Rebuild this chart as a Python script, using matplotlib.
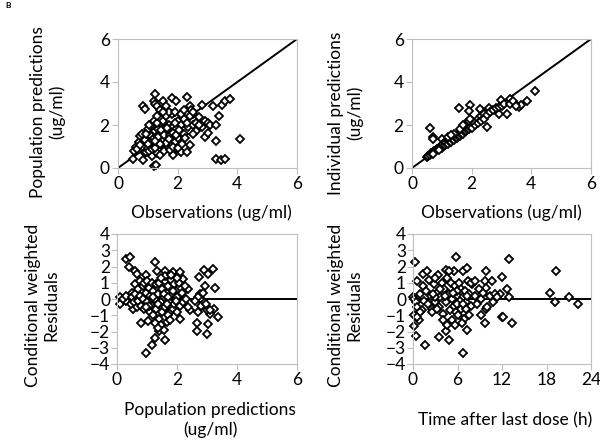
import matplotlib.pyplot as plt
import numpy as np

plt.rcParams['font.family'] = ['Lato', 'DejaVu Sans']

# observed vs population predicted (ug/ml)
obs_pred = [
    (0.5, 0.43), (0.55, 0.8), (0.6, 1.0), (0.65, 0.9), (0.7, 1.2), (0.73, 1.05), (0.75, 1.5),
    (0.8, 1.6), (0.85, 2.88), (0.9, 2.75), (0.84, 0.35), (0.9, 0.7), (0.95, 0.75), (1.0, 1.8),
    (1.0, 0.95), (1.05, 1.3), (1.1, 1.5), (1.1, 2.0), (1.15, 0.55), (1.2, 0.1), (1.28, 0.12),
    (1.2, 3.1), (1.23, 3.42), (1.25, 3.0), (1.3, 2.9), (1.3, 0.7), (1.35, 1.2), (1.4, 0.6),
    (1.4, 1.6), (1.45, 1.9), (1.5, 3.1), (1.5, 2.2), (1.55, 1.7), (1.6, 1.4), (1.6, 2.9),
    (1.65, 0.95), (1.7, 2.0), (1.73, 1.05), (1.75, 1.8), (1.8, 3.27), (1.8, 2.5), (1.84, 1.35),
    (1.85, 0.6), (1.9, 1.9), (1.95, 0.9), (1.96, 3.1), (2.0, 2.2), (2.0, 1.6), (2.05, 1.2),
    (2.07, 0.8), (2.1, 0.75), (2.1, 2.0), (2.2, 1.6), (2.2, 2.3), (2.3, 3.3), (2.3, 0.75),
    (2.35, 1.9), (2.4, 2.9), (2.4, 1.05), (2.45, 2.7), (2.5, 2.5), (2.5, 2.0), (2.6, 1.7),
    (2.7, 2.35), (2.8, 2.95), (2.8, 1.9), (2.9, 1.43), (2.9, 2.2), (3.0, 1.65), (3.0, 2.1),
    (3.1, 2.0), (3.2, 2.9), (3.27, 1.27), (3.27, 0.43), (3.3, 2.0), (3.4, 2.4), (3.44, 0.35),
    (3.5, 2.95), (3.6, 0.43), (3.6, 3.1), (3.75, 3.2), (4.08, 1.35),
    (1.1, 1.2), (1.2, 1.4), (1.25, 1.7), (1.3, 1.5), (1.35, 1.8), (1.4, 1.3), (1.45, 1.5),
    (1.5, 1.4), (1.5, 1.8), (1.55, 1.3), (1.6, 1.7), (1.65, 1.5), (1.7, 1.6), (1.7, 1.2),
    (1.75, 1.4), (1.8, 1.7), (1.8, 1.1), (1.85, 1.9), (1.9, 1.5), (1.9, 1.2), (1.95, 1.8),
    (2.0, 1.4), (1.2, 2.2), (1.3, 2.1), (1.6, 2.4), (1.7, 2.6), (1.9, 2.1), (2.3, 2.1),
    (2.4, 2.4), (2.5, 2.6), (0.9, 1.3), (1.0, 1.1), (1.05, 0.8), (1.15, 0.9), (1.25, 0.95),
    (1.45, 1.05), (1.55, 0.8), (1.75, 0.85), (1.85, 1.0), (2.0, 0.95), (2.15, 1.1), (2.25, 1.4),
    (2.5, 1.6), (2.6, 2.1), (2.7, 2.0), (0.95, 1.6), (1.05, 2.0), (1.3, 2.4), (1.4, 2.7),
    (1.5, 2.6), (1.9, 2.6), (2.1, 2.5), (2.2, 2.7),
    (1.35, 1.45), (1.45, 1.75), (1.55, 1.55), (1.65, 1.85), (1.75, 1.55), (1.85, 1.65),
    (1.95, 1.55), (1.6, 1.15), (1.4, 1.1), (1.7, 1.35), (2.05, 1.75), (1.25, 1.25),
]

# observed vs individual predicted (ug/ml)
obs_ipred = [
    (4.12, 3.59), (2.99, 3.15), (2.59, 2.81), (1.93, 2.94), (1.59, 2.81), (0.61, 1.85),
    (0.72, 1.42), (0.70, 1.35), (2.51, 1.92), (2.9, 2.53), (3.18, 2.5), (3.85, 3.12),
    (3.57, 2.84), (3.65, 2.95), (2.34, 2.66), (2.28, 2.75), (1.9, 2.65), (3.3, 3.2),
    (3.45, 3.0), (1.0, 1.34),
    (0.5, 0.5), (0.55, 0.55), (0.6, 0.6), (0.65, 0.7), (0.7, 0.75), (0.75, 0.8), (0.8, 0.85),
    (0.85, 0.9), (0.9, 0.95), (0.95, 1.0), (1.0, 1.05), (1.0, 0.95), (1.05, 1.1), (1.1, 1.2),
    (1.1, 1.05), (1.15, 1.15), (1.2, 1.3), (1.2, 1.1), (1.25, 1.25), (1.3, 1.4), (1.3, 1.2),
    (1.35, 1.35), (1.4, 1.5), (1.4, 1.3), (1.45, 1.45), (1.5, 1.55), (1.5, 1.4), (1.55, 1.5),
    (1.6, 1.65), (1.6, 1.5), (1.65, 1.6), (1.7, 1.75), (1.7, 1.6), (1.75, 1.7), (1.8, 1.9),
    (1.8, 1.7), (1.85, 1.8), (1.9, 2.0), (1.9, 1.8), (1.95, 1.9), (2.0, 2.05), (2.0, 1.85),
    (2.1, 2.0), (2.2, 2.3), (2.2, 2.1), (2.3, 2.4), (2.3, 2.2), (2.4, 2.5), (2.4, 2.3),
    (2.5, 2.45), (2.6, 2.6), (2.7, 2.7), (2.8, 2.8), (2.9, 2.85), (3.0, 2.9), (3.1, 3.0),
    (3.3, 3.0), (3.4, 3.1), (3.5, 2.9), (0.7, 0.65), (0.9, 0.85), (1.2, 1.45), (1.4, 1.6),
    (1.6, 1.8), (1.8, 2.1), (1.7, 2.0), (2.0, 2.2), (1.3, 1.55), (1.9, 2.2), (1.95, 2.3),
]

# population predicted vs CWRES
pred_cwres = [
    (0.09, 0.1), (0.09, -0.3), (0.31, -0.1), (0.31, 2.45), (0.42, 2.6), (0.4, 1.95),
    (0.6, 1.75), (0.65, 1.55), (0.53, -0.6), (0.5, 0.4), (0.6, 0.9), (0.75, 1.1), (0.98, 1.45),
    (0.81, -1.45), (1.04, -1.35), (0.96, -3.33), (1.18, -2.86), (1.26, -2.4), (1.26, 2.25),
    (1.32, 1.75), (1.4, -1.95), (1.59, -2.5), (1.59, 1.7), (1.87, 1.65), (2.1, 1.65),
    (2.2, 1.25), (2.1, -1.2), (1.76, -0.8), (2.37, 0.6), (2.43, -0.7), (2.65, -1.45),
    (2.65, -1.95), (2.74, 1.35), (2.9, 1.8), (3.04, 1.55), (3.19, 1.85), (2.99, -2.15),
    (3.04, -1.55), (3.1, -0.9), (3.23, -0.6), (3.27, 0.7), (3.38, -1.1), (2.93, 0.8),
    (2.88, -0.1), (2.76, 0.3), (2.99, -0.7),
    (0.2, 0.0), (0.3, 0.2), (0.45, -0.3), (0.5, 0.1), (0.55, -0.2), (0.6, 0.3), (0.65, -0.5),
    (0.7, 0.6), (0.7, -0.1), (0.75, 0.2), (0.8, -0.4), (0.85, 0.8), (0.85, 0.0), (0.9, 1.0),
    (0.9, -0.6), (0.95, 0.4), (1.0, -0.2), (1.0, 1.1), (1.05, 0.7), (1.1, -0.8), (1.1, 0.2),
    (1.15, 1.0), (1.15, -0.4), (1.2, 0.5), (1.2, -1.0), (1.25, 0.0), (1.3, 0.9), (1.3, -0.6),
    (1.35, 0.3), (1.4, -1.2), (1.4, 1.0), (1.45, -0.2), (1.5, 0.6), (1.5, -0.8), (1.55, 0.1),
    (1.6, 1.1), (1.6, -0.5), (1.65, 0.4), (1.7, -1.0), (1.7, 0.8), (1.75, -0.1), (1.8, 1.2),
    (1.8, 0.2), (1.85, -0.6), (1.9, 0.9), (1.9, -0.3), (1.95, 0.5), (2.0, -0.8), (2.0, 0.1),
    (2.05, 1.0), (2.1, -0.4), (2.15, 0.4), (2.2, -0.2), (2.25, 0.8), (2.3, 0.0), (2.35, -0.5),
    (1.25, -1.5), (1.45, -1.6), (1.55, -1.9), (1.65, -1.4), (1.75, -1.3), (1.35, -1.8),
    (1.05, -0.4), (0.95, -0.5), (1.6, 1.4), (1.8, 1.45), (2.0, 1.3), (1.45, 1.3), (2.75, 0.0),
    (2.85, 0.4), (2.8, -0.4), (2.7, -0.8), (2.95, -0.3), (3.1, -0.7), (2.7, 0.1), (2.6, -0.1),
    (1.35, -0.3), (1.55, 0.3), (1.7, 0.1), (1.85, 0.5), (1.95, -0.1), (1.2, 0.1), (1.65, -0.3),
]

# time after last dose (h) vs CWRES
time_cwres = [
    (0.3, 2.25), (0.5, 1.1), (0.1, -1.0), (0.2, -1.65), (0.45, -2.25), (1.65, -2.85),
    (1.4, 1.55), (1.9, 1.75), (3.45, -2.35), (4.9, -2.55), (4.4, -1.95), (4.5, 1.8),
    (5.76, 2.6), (5.5, 1.7), (6.7, 1.75), (7.3, 1.9), (6.7, -3.33), (7.23, -1.9), (7.6, -1.0),
    (9.15, -1.0), (9.7, -1.5), (9.8, 1.7), (9.7, 1.1), (9.9, 0.7), (10.7, 1.1), (11.96, 1.35),
    (12.0, -1.08), (12.2, -1.08), (12.9, 2.45), (12.7, 0.6), (13.0, 0.1), (13.3, -1.5),
    (11.7, 0.3), (10.8, -0.2), (9.9, -0.6), (19.3, 1.7), (18.5, 0.35), (19.2, -0.2),
    (21.1, 0.1), (22.3, -0.3),
    (0.0, 0.1), (0.2, 0.0), (0.4, -0.2), (0.6, -0.5), (0.8, -1.3), (1.0, 0.3), (1.2, -0.7),
    (1.3, 0.8), (1.5, -0.1), (1.8, 0.5), (2.0, -0.3), (2.2, 1.2), (2.4, 0.2), (2.6, -0.6),
    (2.8, 0.9), (3.0, -0.2), (3.2, 0.4), (3.4, 1.5), (3.5, -0.5), (3.7, 0.1), (3.9, 1.0),
    (4.0, -0.9), (4.2, 0.6), (4.4, -0.2), (4.6, 1.3), (4.8, 0.3), (5.0, -0.7), (5.1, 1.0),
    (5.3, 0.0), (5.5, -0.4), (5.6, 0.8), (5.8, -0.8), (6.0, 0.2), (6.2, -0.3), (6.3, 0.7),
    (6.5, -0.6), (6.7, 0.1), (6.9, -1.2), (7.0, 0.5), (7.2, -0.2), (7.4, 1.1), (7.6, 0.3),
    (7.8, -0.4), (8.0, 0.9), (8.3, 0.2), (8.6, -0.3), (8.9, 0.6), (9.2, 0.0), (9.5, 0.4),
    (10.0, -0.5), (10.4, 0.2), (11.0, 0.3), (11.3, 0.1), (2.5, -0.8), (3.3, -0.6), (4.1, -1.3),
    (4.6, -1.6), (5.2, -1.3), (5.7, -1.6), (6.1, -1.0), (6.6, -1.5), (3.0, 1.3), (4.8, 1.7),
    (6.2, 1.0), (7.8, 1.0), (8.4, 1.1), (1.0, -0.8), (0.6, -1.1), (2.9, 0.1), (5.9, 0.5),
    (6.4, -0.1), (7.1, -0.6),
    (3.6, 0.6), (4.3, 0.2), (5.4, 0.4), (5.9, -0.3), (6.8, -0.3), (7.3, 0.2), (2.7, 0.3),
]

fig = plt.figure(figsize=(6, 4.41), dpi=100)
W, H = 600, 441


def make_ax(l, t, r, b):
    return fig.add_axes([l / W, 1 - b / H, (r - l) / W, (b - t) / H])


def style(ax):
    for s in ax.spines.values():
        s.set_color('#bfbfbf')
        s.set_linewidth(0.8)
    ax.tick_params(direction='out', length=4, width=0.8, color='#bfbfbf',
                   labelsize=12.5, pad=2)


def scatter(ax, pts):
    x, y = np.array(pts).T
    ax.plot(x, y, 'D', ms=3.8, mfc='white', mec='black', mew=1.3, clip_on=False)


ax1 = make_ax(118, 39, 297, 168)
ax2 = make_ax(412, 39, 591, 168)
ax3 = make_ax(117, 234, 297, 364)
ax4 = make_ax(413, 234, 591, 364)

for ax in (ax1, ax2):
    style(ax)
    ax.plot([0, 6], [0, 6], color='black', lw=1.4, zorder=1)
    ax.set_xlim(0, 6)
    ax.set_ylim(0, 6)
    ax.set_xticks([0, 2, 4, 6])
    ax.set_yticks([0, 2, 4, 6])

scatter(ax1, obs_pred)
scatter(ax2, obs_ipred)

style(ax3)
ax3.plot([0, 6], [0, 0], color='black', lw=1.4, zorder=1)
ax3.set_xlim(0, 6)
ax3.set_xticks([0, 2, 4, 6])
scatter(ax3, pred_cwres)

style(ax4)
ax4.plot([0, 24], [0, 0], color='black', lw=1.4, zorder=1)
ax4.set_xlim(0, 24)
ax4.set_xticks([0, 6, 12, 18, 24])
scatter(ax4, time_cwres)

for ax in (ax3, ax4):
    ax.set_ylim(-4, 4)
    ax.set_yticks(range(-4, 5))
    ax.tick_params(axis='y', pad=1)

lab = dict(fontsize=12.5, ha='center', va='center', multialignment='center')
fig.text(48 / W, 1 - 112 / H, 'Population predictions\n(ug/ml)', rotation=90, linespacing=1.2, **lab)
fig.text(346 / W, 1 - 113 / H, 'Individual predictions\n(ug/ml)', rotation=90, linespacing=1.2, **lab)
fig.text(42 / W, 1 - 305 / H, 'Conditional weighted\nResiduals', rotation=90, linespacing=1.2, **lab)
fig.text(345 / W, 1 - 305 / H, 'Conditional weighted\nResiduals', rotation=90, linespacing=1.2, **lab)
fig.text(211 / W, 1 - 213 / H, 'Observations (ug/ml)', **lab)
fig.text(501 / W, 1 - 213 / H, 'Observations (ug/ml)', **lab)
fig.text(210 / W, 1 - 420 / H, 'Population predictions\n(ug/ml)', linespacing=1.2, **lab)
fig.text(505 / W, 1 - 420 / H, 'Time after last dose (h)', **lab)
fig.text(5 / W, 1 - 6 / H, 'B', fontsize=6, fontweight='bold', ha='left', va='center')

fig.savefig('out.png', dpi=100)
